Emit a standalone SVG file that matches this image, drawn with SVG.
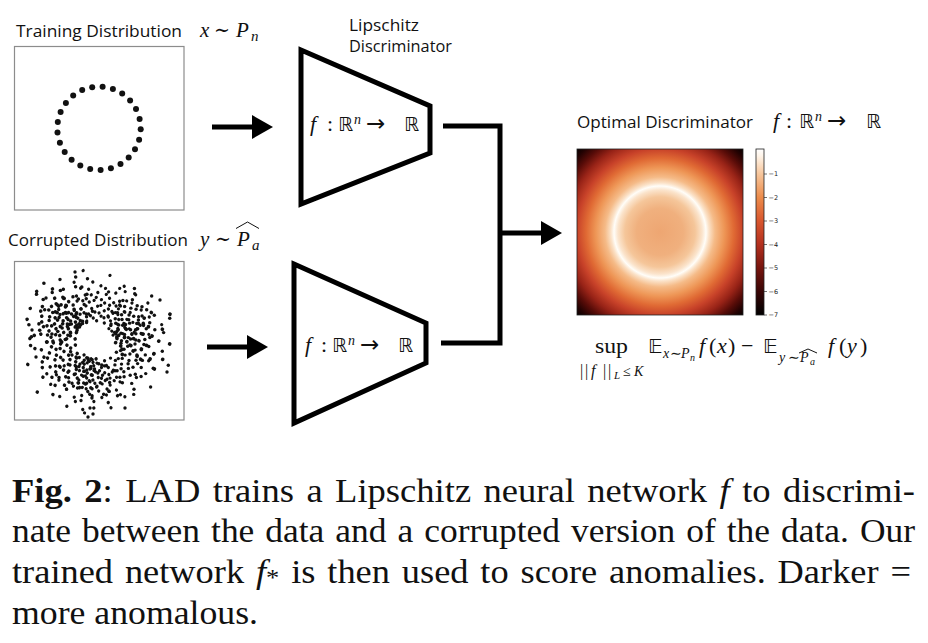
<svg xmlns="http://www.w3.org/2000/svg" xmlns:xlink="http://www.w3.org/1999/xlink" width="928" height="643" viewBox="0 0 928 643">
<style>
.lbl{font-family:"Open Sans","Liberation Sans",sans-serif;font-size:17px;fill:#111}
.mi{font-family:"Liberation Serif","Times New Roman",serif;font-style:italic;fill:#111}
.mr{font-family:"Liberation Serif","Times New Roman","DejaVu Serif",serif;fill:#111}
.bb{font-family:"DejaVu Sans",sans-serif;fill:#111}
.cap{font-family:"Liberation Serif","Times New Roman",serif;font-size:33px;fill:#111}
.box{fill:#fff;stroke:#8c8c8c;stroke-width:1.2}
.trap{fill:#fff;stroke:#000;stroke-width:5;stroke-linejoin:miter}
.conn{fill:none;stroke:#000;stroke-width:5;stroke-linejoin:miter}
.dot{fill:#111}
.tick{stroke:#333;stroke-width:0.7}
.cbl{font-family:"DejaVu Sans",sans-serif;font-size:6.5px;fill:#222}
.hat{fill:none;stroke:#111;stroke-width:1}
</style>
<defs>
<marker id="ah" viewBox="0 0 21 24" refX="0" refY="12" markerWidth="21" markerHeight="24" markerUnits="userSpaceOnUse" orient="auto">
<path d="M0,0 L21,12 L0,24 Z" fill="#000"/>
</marker>
<radialGradient id="heat" gradientUnits="userSpaceOnUse" cx="660" cy="232" r="117">
<stop offset="0" stop-color="#eea672"/>
<stop offset="0.2" stop-color="#f0b07e"/>
<stop offset="0.3" stop-color="#f5c69a"/>
<stop offset="0.36" stop-color="#fbe4cc"/>
<stop offset="0.393" stop-color="#fffdf8"/>
<stop offset="0.42" stop-color="#fbe2c8"/>
<stop offset="0.47" stop-color="#f5bb88"/>
<stop offset="0.55" stop-color="#ee9656"/>
<stop offset="0.63" stop-color="#e06a34"/>
<stop offset="0.71" stop-color="#c84229"/>
<stop offset="0.8" stop-color="#982317"/>
<stop offset="0.88" stop-color="#580c08"/>
<stop offset="0.95" stop-color="#240202"/>
<stop offset="1" stop-color="#080000"/>
</radialGradient>
<linearGradient id="cbar" x1="0" y1="0" x2="0" y2="1">
<stop offset="0" stop-color="#ffffff"/>
<stop offset="0.04" stop-color="#fff5ea"/>
<stop offset="0.15" stop-color="#f7c69c"/>
<stop offset="0.29" stop-color="#ec8c4b"/>
<stop offset="0.43" stop-color="#d9572e"/>
<stop offset="0.57" stop-color="#b5311f"/>
<stop offset="0.71" stop-color="#7a160e"/>
<stop offset="0.86" stop-color="#380505"/>
<stop offset="1" stop-color="#000000"/>
</linearGradient>
<g id="sec" class="dot">
<circle cx="24" cy="1.2" r="1.7"/><circle cx="30.7" cy="4.3" r="1.7"/><circle cx="38" cy="2" r="1.7"/><circle cx="44.3" cy="7.8" r="1.7"/><circle cx="51.8" cy="4.5" r="1.7"/>
<circle cx="27" cy="7.3" r="1.7"/><circle cx="32.9" cy="12" r="1.7"/><circle cx="39.9" cy="13" r="1.7"/><circle cx="45.4" cy="18.4" r="1.7"/><circle cx="56.7" cy="12.1" r="1.7"/>
<circle cx="65.3" cy="9.2" r="1.7"/><circle cx="19.4" cy="10.3" r="1.7"/><circle cx="25.2" cy="16.4" r="1.7"/><circle cx="32" cy="18.5" r="1.7"/><circle cx="36" cy="25.2" r="1.7"/>
<circle cx="44.2" cy="25.5" r="1.7"/><circle cx="44.1" cy="34.5" r="1.7"/><circle cx="56.2" cy="26.2" r="1.7"/><circle cx="18.4" cy="18.4" r="1.7"/><circle cx="24.5" cy="22.1" r="1.7"/>
<circle cx="26.8" cy="29.7" r="1.7"/><circle cx="33.2" cy="33.2" r="1.7"/><circle cx="34.7" cy="41.4" r="1.7"/><circle cx="20.1" cy="28.7" r="1.7"/><circle cx="22.9" cy="35.2" r="1.7"/>
<circle cx="17.9" cy="22.9" r="1.7"/><circle cx="25.4" cy="40.7" r="1.7"/><circle cx="37" cy="47.3" r="1.7"/><circle cx="53.6" cy="45" r="1.7"/><circle cx="38.1" cy="8.1" r="1.7"/>
<circle cx="40.6" cy="21.6" r="1.7"/><circle cx="32.9" cy="2.9" r="1.7"/><circle cx="21.3" cy="16.6" r="1.7"/><circle cx="48.3" cy="12.9" r="1.7"/><circle cx="31.4" cy="26.4" r="1.7"/>
<circle cx="24.1" cy="26.8" r="1.7"/><circle cx="27.1" cy="34.7" r="1.7"/><circle cx="39.4" cy="35.5" r="1.7"/><circle cx="28.1" cy="13.1" r="1.7"/><circle cx="48.7" cy="31.6" r="1.7"/>
<circle cx="13.5" cy="16.1" r="1.7"/><circle cx="36.7" cy="52.4" r="1.7"/><circle cx="31.1" cy="21.8" r="1.7"/><circle cx="46.9" cy="2.5" r="1.7"/><circle cx="51.7" cy="18.8" r="1.7"/>
<circle cx="23.5" cy="8.6" r="1.7"/><circle cx="39" cy="18.2" r="1.7"/><circle cx="18" cy="28.8" r="1.7"/><circle cx="38.3" cy="32.2" r="1.7"/><circle cx="71.3" cy="23.2" r="1.7"/>
</g>
<g id="sec2" class="dot">
<circle cx="16.4" cy="11.5" r="1.7"/><circle cx="13.2" cy="18.8" r="1.7"/>
<circle cx="25.4" cy="5.4" r="1.7"/><circle cx="25.6" cy="13.6" r="1.7"/><circle cx="19.3" cy="23" r="1.7"/><circle cx="26" cy="21.9" r="1.7"/><circle cx="34.8" cy="9.3" r="1.7"/>
<circle cx="34.6" cy="20" r="1.7"/><circle cx="25.9" cy="33.1" r="1.7"/><circle cx="44.6" cy="6.3" r="1.7"/><circle cx="42.6" cy="19.9" r="1.7"/><circle cx="35.4" cy="35.4" r="1.7"/>
<circle cx="42.6" cy="29.8" r="1.7"/><circle cx="52.3" cy="17" r="1.7"/><circle cx="31" cy="47.8" r="1.7"/><circle cx="59.8" cy="5.2" r="1.7"/><circle cx="47.5" cy="39.9" r="1.7"/>
<circle cx="60" cy="31.9" r="1.7"/><circle cx="46.3" cy="55.2" r="1.7"/><circle cx="17.3" cy="7.6" r="1.7"/><circle cx="16.3" cy="14.7" r="1.7"/><circle cx="28" cy="1.5" r="1.7"/>
<circle cx="30.6" cy="12.4" r="1.7"/><circle cx="26.9" cy="26.9" r="1.7"/><circle cx="40.4" cy="7.1" r="1.7"/><circle cx="34.7" cy="27.1" r="1.7"/><circle cx="28.1" cy="40.1" r="1.7"/>
<circle cx="51.8" cy="11" r="1.7"/><circle cx="50.2" cy="29" r="1.7"/><circle cx="16.4" cy="26.3" r="1.7"/><circle cx="22.8" cy="7.4" r="1.7"/><circle cx="29.4" cy="19.1" r="1.7"/>
<circle cx="30.8" cy="34.2" r="1.7"/><circle cx="61.8" cy="16.6" r="1.7"/><circle cx="13.2" cy="14.6" r="1.7"/><circle cx="21.8" cy="15.9" r="1.7"/><circle cx="40.4" cy="14.7" r="1.7"/>
</g>
</defs>
<rect width="928" height="643" fill="#fff"/>

<g id="node-training">
<text class="lbl" x="16" y="37" textLength="166" lengthAdjust="spacingAndGlyphs">Training Distribution</text>
<text class="mi" x="200" y="37" font-size="21">x</text>
<text class="mr" x="214" y="37" font-size="21" textLength="16" lengthAdjust="spacingAndGlyphs">∼</text>
<text class="mi" x="236" y="37" font-size="21">P</text>
<text class="mi" x="251" y="41" font-size="15">n</text>
<rect class="box" x="14.5" y="46.5" width="169.5" height="163.5"/>
<g class="dot">
<circle cx="102.6" cy="86.8" r="3"/><circle cx="112.9" cy="89.0" r="3"/><circle cx="122.2" cy="93.6" r="3"/><circle cx="130.1" cy="100.5" r="3"/><circle cx="136.0" cy="109.1" r="3"/>
<circle cx="139.6" cy="118.9" r="3"/><circle cx="140.7" cy="129.3" r="3"/><circle cx="139.1" cy="139.7" r="3"/><circle cx="135.0" cy="149.3" r="3"/><circle cx="128.7" cy="157.6" r="3"/>
<circle cx="120.5" cy="164.0" r="3"/><circle cx="110.9" cy="168.3" r="3"/><circle cx="100.6" cy="170.0" r="3"/><circle cx="90.2" cy="169.1" r="3"/><circle cx="80.3" cy="165.6" r="3"/>
<circle cx="71.6" cy="159.8" r="3"/><circle cx="64.7" cy="152.0" r="3"/><circle cx="59.9" cy="142.7" r="3"/><circle cx="57.5" cy="132.5" r="3"/><circle cx="57.8" cy="122.1" r="3"/>
<circle cx="60.6" cy="112.0" r="3"/><circle cx="65.9" cy="103.0" r="3"/><circle cx="73.2" cy="95.5" r="3"/><circle cx="82.2" cy="90.1" r="3"/><circle cx="92.2" cy="87.2" r="3"/>
</g>
</g>

<g id="node-corrupted">
<text class="lbl" x="8" y="246" textLength="180" lengthAdjust="spacingAndGlyphs">Corrupted Distribution</text>
<text class="mi" x="200" y="246" font-size="21">y</text>
<text class="mr" x="215" y="246" font-size="21" textLength="16" lengthAdjust="spacingAndGlyphs">∼</text>
<text class="mi" x="237" y="246" font-size="21">P</text>
<text class="mi" x="252" y="250" font-size="15">a</text>
<polyline class="hat" points="236,228.5 247.5,222 259,228.5"/>
<rect class="box" x="14.5" y="261.5" width="169.5" height="158.5"/>
<g transform="translate(97,342)">
<use xlink:href="#sec"/>
<use xlink:href="#sec" transform="rotate(122) scale(1.04)"/>
<use xlink:href="#sec" transform="rotate(241) scale(0.97)"/>
<use xlink:href="#sec" transform="scale(1.02,-1.02)"/>
<use xlink:href="#sec" transform="rotate(118) scale(0.96,-0.96)"/>
<use xlink:href="#sec" transform="rotate(238) scale(1.05,-1.05)"/>
</g>
<g transform="translate(95,340)">
<use xlink:href="#sec2" transform="rotate(63)"/>
<use xlink:href="#sec2" transform="rotate(178) scale(1.06)"/>
<use xlink:href="#sec2" transform="rotate(297) scale(0.95)"/>
<use xlink:href="#sec2" transform="rotate(31) scale(1.1,-1.1)"/>
<use xlink:href="#sec2" transform="rotate(150) scale(0.98,-0.98)"/>
<use xlink:href="#sec2" transform="rotate(268) scale(1.03,-1.03)"/>
</g>
<g class="dot">
<circle cx="75" cy="272" r="1.7"/><circle cx="88" cy="417" r="1.7"/><circle cx="93" cy="414" r="1.7"/><circle cx="90" cy="408" r="1.7"/>
<circle cx="167" cy="372" r="1.7"/><circle cx="32" cy="330" r="1.7"/><circle cx="125" cy="408" r="1.7"/><circle cx="160" cy="300" r="1.7"/>
<circle cx="36" cy="357" r="1.7"/><circle cx="46" cy="298" r="1.7"/>
</g>
</g>

<g id="node-lipschitz-top">
<text class="lbl" x="349" y="31" textLength="70" lengthAdjust="spacingAndGlyphs">Lipschitz</text>
<text class="lbl" x="349" y="52" textLength="103" lengthAdjust="spacingAndGlyphs">Discriminator</text>
<polygon class="trap" points="301,50 430,106 430,153 301,204"/>
<text class="mi" x="310" y="131" font-size="22">f</text>
<text class="mr" x="327" y="131" font-size="22">:</text>
<text class="bb" x="338" y="131" font-size="19">ℝ</text>
<text class="mi" x="354" y="124" font-size="14">n</text>
<text class="bb" x="366" y="131" font-size="23">→</text>
<text class="bb" x="404" y="131" font-size="19">ℝ</text>
</g>

<g id="node-lipschitz-bottom">
<polygon class="trap" points="294,264 426,323 426,363 294,423"/>
<text class="mi" x="305" y="352" font-size="22">f</text>
<text class="mr" x="321" y="352" font-size="22">:</text>
<text class="bb" x="332" y="352" font-size="19">ℝ</text>
<text class="mi" x="348" y="345" font-size="14">n</text>
<text class="bb" x="360" y="352" font-size="23">→</text>
<text class="bb" x="398" y="352" font-size="19">ℝ</text>
</g>

<g id="node-optimal">
<text class="lbl" x="577" y="128" textLength="176" lengthAdjust="spacingAndGlyphs">Optimal Discriminator</text>
<text class="mi" x="773" y="128" font-size="22">f</text>
<text class="mr" x="786" y="128" font-size="22">:</text>
<text class="bb" x="799" y="128" font-size="19">ℝ</text>
<text class="mi" x="815" y="121" font-size="14">n</text>
<text class="bb" x="827" y="128" font-size="23">→</text>
<text class="bb" x="866" y="128" font-size="19">ℝ</text>
<rect x="577" y="149" width="166" height="166" fill="url(#heat)" stroke="#222" stroke-width="0.8"/>
<rect x="756" y="149" width="8" height="166" fill="url(#cbar)" stroke="#222" stroke-width="0.8"/>
<g class="tick">
<line x1="764" y1="174" x2="767" y2="174"/><line x1="764" y1="197.5" x2="767" y2="197.5"/><line x1="764" y1="221" x2="767" y2="221"/>
<line x1="764" y1="244.5" x2="767" y2="244.5"/><line x1="764" y1="268" x2="767" y2="268"/><line x1="764" y1="291.5" x2="767" y2="291.5"/><line x1="764" y1="315" x2="767" y2="315"/>
</g>
<g class="cbl">
<text x="768.5" y="176.3">−1</text><text x="768.5" y="199.8">−2</text><text x="768.5" y="223.3">−3</text><text x="768.5" y="246.8">−4</text>
<text x="768.5" y="270.3">−5</text><text x="768.5" y="293.8">−6</text><text x="768.5" y="317.3">−7</text>
</g>
<text class="mr" x="595" y="353" font-size="22" textLength="33" lengthAdjust="spacingAndGlyphs">sup</text>
<text class="mr" x="580" y="376" font-size="16">|</text>
<text class="mr" x="585" y="376" font-size="16">|</text>
<text class="mi" x="591" y="376" font-size="16">f</text>
<text class="mr" x="603" y="376" font-size="16">|</text>
<text class="mr" x="608" y="376" font-size="16">|</text>
<text class="mi" x="614" y="379" font-size="11">L</text>
<text class="mr" x="623" y="376" font-size="14">≤</text>
<text class="mi" x="634" y="376" font-size="14">K</text>
<text class="bb" x="648" y="353" font-size="20">𝔼</text>
<text class="mi" x="663" y="358" font-size="14">x</text>
<text class="mr" x="670" y="358" font-size="14">∼</text>
<text class="mi" x="681" y="358" font-size="14">P</text>
<text class="mi" x="690" y="361" font-size="10">n</text>
<text class="mi" x="699" y="353" font-size="22">f</text>
<text class="mr" x="709" y="353" font-size="22">(</text>
<text class="mi" x="717" y="353" font-size="22">x</text>
<text class="mr" x="728" y="353" font-size="22">)</text>
<text class="mr" x="741" y="353" font-size="22">−</text>
<text class="bb" x="763" y="353" font-size="20">𝔼</text>
<text class="mi" x="779" y="362" font-size="14">y</text>
<text class="mr" x="788" y="362" font-size="14">∼</text>
<text class="mi" x="800" y="362" font-size="14">P</text>
<text class="mi" x="810" y="365" font-size="10">a</text>
<polyline class="hat" points="799,353 808,349 817,353" stroke-width="0.8"/>
<text class="mi" x="828" y="353" font-size="22">f</text>
<text class="mr" x="839" y="353" font-size="22">(</text>
<text class="mi" x="847" y="353" font-size="22">y</text>
<text class="mr" x="860" y="353" font-size="22">)</text>
</g>

<g id="connectors">
<line class="conn" x1="212" y1="127" x2="252" y2="127" marker-end="url(#ah)"/>
<line class="conn" x1="207" y1="347" x2="247" y2="347" marker-end="url(#ah)"/>
<path class="conn" d="M443,126 H500 V343 H441"/>
<line class="conn" x1="500" y1="233" x2="541" y2="233" marker-end="url(#ah)"/>
</g>

<g id="caption">
<text class="cap" x="12" y="502" word-spacing="3" textLength="903" lengthAdjust="spacingAndGlyphs"><tspan font-weight="bold">Fig. 2</tspan>: LAD trains a Lipschitz neural network <tspan font-style="italic">f</tspan> to discrimi-</text>
<text class="cap" x="12" y="542" word-spacing="2" textLength="903" lengthAdjust="spacingAndGlyphs">nate between the data and a corrupted version of the data. Our</text>
<text class="cap" x="12" y="583" word-spacing="2.5" textLength="899" lengthAdjust="spacingAndGlyphs">trained network <tspan font-style="italic">f</tspan><tspan font-size="24" dy="2">*</tspan><tspan dy="-2"> is then used to score anomalies. Darker =</tspan></text>
<text class="cap" x="12" y="624" textLength="246" lengthAdjust="spacingAndGlyphs">more anomalous.</text>
</g>
</svg>
